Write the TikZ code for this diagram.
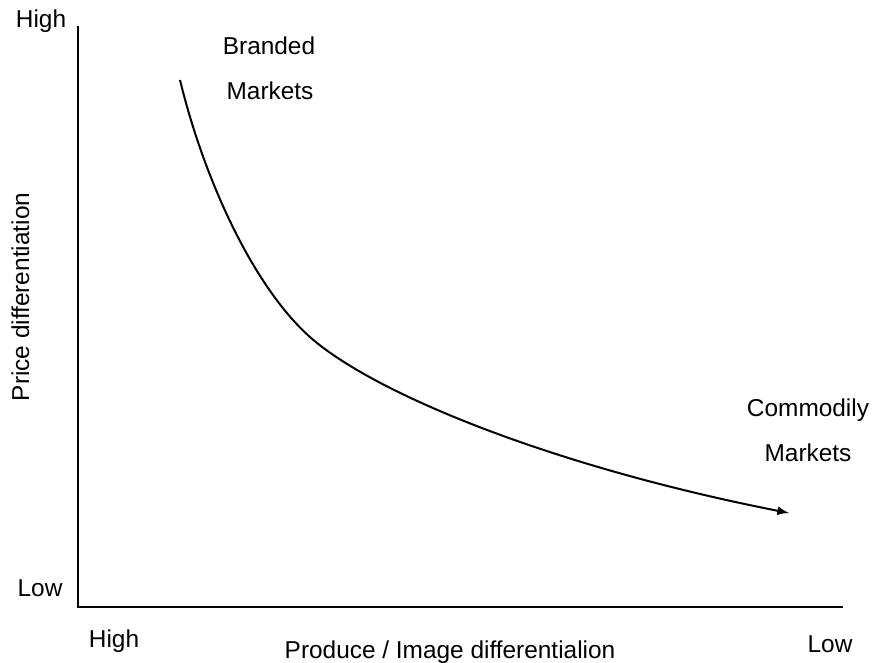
\documentclass[tikz,border=0pt]{standalone}
\usepackage{fontspec}
\setmainfont{Liberation Sans}
\begin{document}
\begin{tikzpicture}[x=0.5pt,y=0.5pt,font=\fontsize{12.2}{14}\selectfont]
        \useasboundingbox (0,0) rectangle (873,663);
        \coordinate (top) at (78,637);
        \coordinate (origin) at (78,56);
        \coordinate (right) at (843,56);
        \coordinate (start) at (180,583);
        \coordinate (mid) at (317,320);
        \coordinate (end) at (789,150);
        \node[anchor=base] (yhigh) at (41,635) {High};
        \node[anchor=base] (ylow) at (40,66) {Low};
        \node[anchor=base] (xhigh) at (114,15) {High};
        \node[anchor=base] (xlow) at (830,10) {Low};
        \node[anchor=base] (xlabel) at (450,4) {Produce / Image differentialion};
        \node[anchor=base,rotate=90] (ylabel) at (29,366) {Price differentiation};
        \node[anchor=base] (branded1) at (269,608) {Branded};
        \node[anchor=base] (branded2) at (270,563) {Markets};
        \node[anchor=base] (commodity1) at (808,246) {Commodily};
        \node[anchor=base] (commodity2) at (808,201) {Markets};
        \path[draw,line width=0.65pt,-] (top) -- (origin) -- (right);
        \path[draw,line width=1pt,-latex] (start) .. controls (205,480) and (257,368) .. (mid)
            .. controls (387,264) and (560,195) .. (end);
    \end{tikzpicture}
\end{document}
